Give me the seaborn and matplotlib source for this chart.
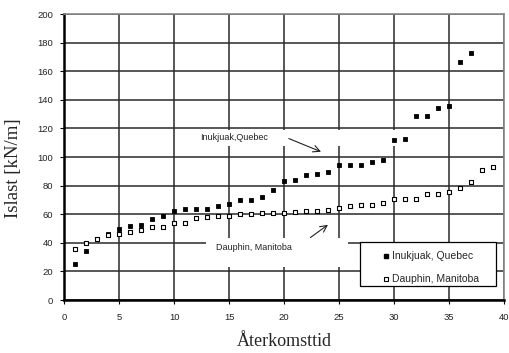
import numpy as np
import pandas as pd
import matplotlib
matplotlib.use("Agg")
import matplotlib.pyplot as plt
from matplotlib.patches import Rectangle
from matplotlib.lines import Line2D
import seaborn as sns

# Data
inuk_x = list(range(1, 38))
inuk_y = [25, 34.4, 43, 46, 49.6, 51.5, 52.6, 56.6, 58.5, 62.3,
          63.4, 63.4, 64, 65.5, 67.4, 69.7, 69.7, 72, 77.2, 83,
          83.7, 87.7, 88.4, 89.8, 94.5, 94.5, 94.5, 96.6, 98.2, 111.8,
          112.7, 129, 129, 134, 136, 166.5, 172.6]
daup_x = list(range(1, 40))
daup_y = [35.5, 40, 42.6, 45.6, 46.5, 47.3, 49, 51, 51, 54,
          53.6, 57.3, 58, 58.5, 58.5, 60, 60.5, 61, 61, 61,
          61.8, 62.5, 62.5, 63.2, 64.3, 65.5, 66.2, 66.2, 67.8, 70.7,
          70.7, 70.7, 74.2, 74.2, 75.3, 78.4, 82.3, 90.8, 93.1]
series_names = ["Inukjuak, Quebec", "Dauphin, Manitoba"]
x_ticks = list(range(0, 41, 5))
y_ticks = list(range(0, 201, 20))

df = pd.concat([
    pd.DataFrame({"x": inuk_x, "y": inuk_y, "serie": series_names[0]}),
    pd.DataFrame({"x": daup_x, "y": daup_y, "serie": series_names[1]}),
])

sns.set_theme(style="white")
plt.rcParams["font.family"] = ["Liberation Sans", "DejaVu Sans"]

fig = plt.figure(figsize=(5.09, 3.53), dpi=100)
ax = fig.add_axes([0.126, 0.150, 0.864, 0.810])

ax.set_xlim(0, 40)
ax.set_ylim(0, 200)
ax.set_xticks(x_ticks)
ax.set_yticks(y_ticks)
ax.grid(True, color="#2a2a2a", linewidth=1.1, zorder=0)
ax.set_axisbelow(True)

# white label boxes that hide grid lines (as in the reference)
ax.add_patch(Rectangle((11.1, 107.5), 19.5, 11.5, facecolor="white",
                       edgecolor="none", zorder=1.5))
ax.add_patch(Rectangle((12.9, 23.0), 12.9, 20.5, facecolor="white",
                       edgecolor="none", zorder=1.5))

sns.scatterplot(data=df[df.serie == series_names[0]], x="x", y="y",
                marker="s", s=12, color="black", edgecolor="black",
                linewidth=0.6, ax=ax, zorder=3, legend=False)
sns.scatterplot(data=df[df.serie == series_names[1]], x="x", y="y",
                marker="s", s=12, color="white", edgecolor="black",
                linewidth=0.8, ax=ax, zorder=4, legend=False)

ax.text(15.5, 114, "Inukjuak,Quebec", fontsize=6.5, ha="center",
        va="center", color="#222222", zorder=5)
ax.annotate("", xy=(23.6, 103), xytext=(20.2, 113.7),
            arrowprops=dict(arrowstyle="->", color="#222222", lw=0.8),
            zorder=5)
ax.text(17.3, 37, "Dauphin, Manitoba", fontsize=6.5, ha="center",
        va="center", color="#222222", zorder=5)
ax.annotate("", xy=(24.2, 53.8), xytext=(22.2, 42.6),
            arrowprops=dict(arrowstyle="->", color="#222222", lw=0.8),
            zorder=5)

# legend frame (white box) + frameless legend inside
ax.add_patch(Rectangle((26.9, 9.8), 12.35, 31.0, facecolor="white",
                       edgecolor="black", linewidth=0.9, zorder=6))
handles = [
    Line2D([], [], linestyle="none", marker="s", markersize=3.2,
           markerfacecolor="black", markeredgecolor="black"),
    Line2D([], [], linestyle="none", marker="s", markersize=3.2,
           markerfacecolor="white", markeredgecolor="black",
           markeredgewidth=0.8),
]
leg = ax.legend(handles, series_names, loc="upper left",
                bbox_to_anchor=(28.2, 40.0), bbox_transform=ax.transData,
                fontsize=7.5, frameon=False, borderpad=0.3,
                labelspacing=1.25, handletextpad=0.25, handlelength=0.7)
leg.set_zorder(7)

for side in ["left", "bottom"]:
    ax.spines[side].set_color("black")
    ax.spines[side].set_linewidth(1.8)
for side in ["top", "right"]:
    ax.spines[side].set_color("#888888")
    ax.spines[side].set_linewidth(1.2)

ax.tick_params(axis="both", which="major", labelsize=6.8, length=3,
               width=0.8, color="black", direction="out",
               left=True, bottom=True, labelcolor="#222222")
ax.tick_params(axis="y", pad=5)
ax.tick_params(axis="x", pad=6)

serif = ["Liberation Serif", "DejaVu Serif"]
ax.set_xlabel("Återkomsttid", fontsize=13, family=serif, labelpad=8)
ax.set_ylabel("Islast [kN/m]", fontsize=13.5, family=serif)
ax.yaxis.set_label_coords(-0.095, 0.46)

fig.savefig("out.png", dpi=100)
